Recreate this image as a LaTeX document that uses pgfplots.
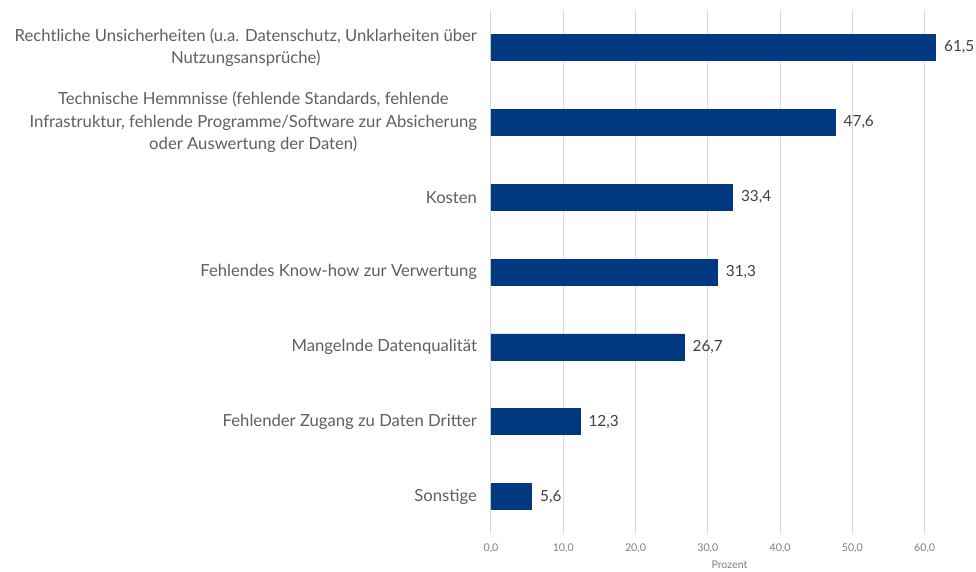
\documentclass[border=0pt]{standalone}
\usepackage{fontspec}
\setmainfont{Lato}
\usepackage{pgfplots}
\pgfplotsset{compat=1.18}
\definecolor{barblue}{RGB}{0,57,128}
\definecolor{labgray}{RGB}{95,95,95}
\definecolor{gridgray}{RGB}{217,217,217}
\begin{document}
\begin{tikzpicture}
\useasboundingbox (-368.25pt,-28.5pt) rectangle (363.75pt,400.5pt);
\begin{axis}[
    at={(0,0)}, anchor=south west,
    scale only axis,
    width=357.75pt, height=393pt,
    xbar,
    bar width=19.5pt,
    xmin=0, xmax=66,
    ymin=-0.5, ymax=6.5,
    y dir=reverse,
    axis line style={draw=none},
    xtick={0,10,...,60},
    xticklabel style={font=\fontsize{8}{9}\selectfont, text=labgray!80, yshift=-4pt},
    /pgf/number format/assume math mode=true,
    x tick label style={/pgf/number format/.cd, fixed, fixed zerofill, precision=1, use comma},
    major tick length=0pt,
    xmajorgrids,
    grid style={gridgray, line width=0.75pt},
    ytick={0,...,6},
    yticklabels={
      {Rechtliche Unsicherheiten (u.a. Datenschutz, Unklarheiten über\\Nutzungsansprüche)},
      {Technische Hemmnisse (fehlende Standards, fehlende\\Infrastruktur, fehlende Programme/Software zur Absicherung\\oder Auswertung der Daten)},
      {Kosten},
      {Fehlendes Know-how zur Verwertung},
      {Mangelnde Datenqualität},
      {Fehlender Zugang zu Daten Dritter},
      {Sonstige}},
    yticklabel style={font=\fontsize{12.5}{17}\selectfont, text=labgray, align=center, xshift=-7pt},
    xlabel={Prozent},
    xlabel style={font=\fontsize{8}{9}\selectfont, text=labgray!80, yshift=1pt},
    nodes near coords,
    nodes near coords style={font=\fontsize{11.5}{13}\selectfont, text=black!75, anchor=west, xshift=3pt,
      /pgf/number format/.cd, fixed, fixed zerofill, precision=1, use comma, assume math mode=true},
    clip=false,
]
\addplot[fill=barblue, draw=barblue] coordinates {
  (61.5,0) (47.6,1) (33.4,2) (31.3,3) (26.7,4) (12.3,5) (5.6,6)};
\end{axis}
\end{tikzpicture}
\end{document}
